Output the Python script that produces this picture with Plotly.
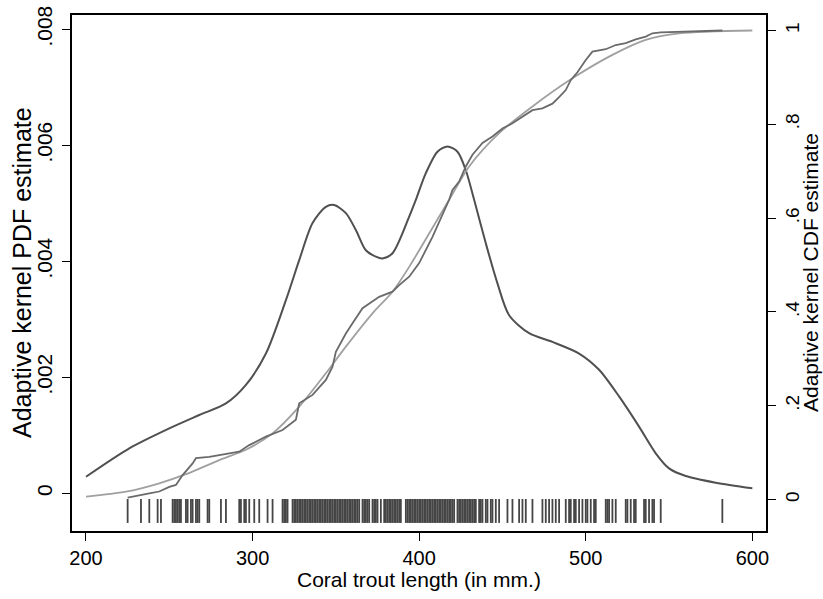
import plotly.graph_objects as go

# ---------------- data ----------------
pdf_x = [200, 226, 250, 268, 284, 296, 308, 320, 328, 336, 344, 349, 356, 362, 368, 374, 378,
         384, 394, 398, 404, 411, 417, 423, 428, 433, 440, 447, 454, 466, 480, 496, 508,
         520, 532, 542, 550, 560, 578, 600]
pdf_y = [0.000286, 0.000776, 0.00112, 0.00135, 0.00155, 0.00187, 0.00241, 0.00333, 0.00402,
         0.00466, 0.00494, 0.00497, 0.00483, 0.00454, 0.00419, 0.00408, 0.00405, 0.00414,
         0.00477, 0.00506, 0.00552, 0.00589, 0.00598, 0.00589, 0.00557, 0.00506, 0.00431,
         0.00362, 0.00307, 0.00276, 0.00261, 0.00241, 0.00213, 0.00167, 0.00115, 0.00069,
         0.00043, 0.000298, 0.000183, 0.000086]

cdf_x = [200, 224, 244, 260, 280, 296, 312, 328, 344, 356, 372, 384, 394, 418, 430, 448,
         468, 492, 516, 536, 556, 600]
cdf_y = [0.006, 0.0166, 0.0345, 0.054, 0.084, 0.106, 0.141, 0.198, 0.269, 0.326, 0.397,
         0.443, 0.496, 0.639, 0.710, 0.781, 0.838, 0.898, 0.948, 0.980, 0.994, 1.000]

ecdf_x = [225, 232, 238, 244, 250, 254, 258, 264, 266, 274, 280, 292, 298, 308, 318, 326,
          328, 336, 344, 348, 350, 356, 360, 366, 376, 384, 388, 394, 400, 408, 418, 420,
          424, 428, 432, 438, 444, 450, 456, 462, 468, 474, 480, 484, 488, 491, 495, 500,
          504, 512, 518, 524, 530, 536, 540, 545, 582]
ecdf_y = [0.004, 0.0096, 0.013, 0.017, 0.027, 0.031, 0.052, 0.077, 0.088, 0.091, 0.095,
          0.102, 0.116, 0.134, 0.148, 0.170, 0.205, 0.223, 0.255, 0.283, 0.315, 0.354,
          0.376, 0.408, 0.432, 0.443, 0.457, 0.475, 0.504, 0.560, 0.639, 0.660, 0.678,
          0.710, 0.735, 0.760, 0.774, 0.791, 0.802, 0.816, 0.830, 0.834, 0.844, 0.858,
          0.873, 0.894, 0.911, 0.937, 0.955, 0.960, 0.969, 0.973, 0.981, 0.987, 0.994,
          0.996, 1.000]

rug_x = ([225, 233, 238, 243, 245, 252, 253, 254, 255, 256, 257, 260, 261, 263, 264, 266,
          267, 268, 273, 274, 281, 284, 292, 293, 295, 296, 298, 301, 304, 309, 312, 318,
          319, 320, 321, 324, 325, 326, 327, 328, 329, 330, 331]
         + [v for v in range(332, 434) if v not in (365, 371, 376, 378, 390, 391, 422)]
         + [434, 436, 437, 438, 440, 441, 443, 444, 446, 448, 453, 456, 460, 462, 464, 468,
            474, 476, 478, 480, 482, 484, 488, 490, 491, 493, 494, 496, 498, 500, 501, 503,
            505, 506, 512, 513, 514, 516, 518, 524, 525, 527, 529, 530, 535, 536, 538, 540,
            541, 545, 582])

x_ticks = [200, 300, 400, 500, 600]
pdf_ticks = [0, 0.002, 0.004, 0.006, 0.008]
pdf_tick_text = ["0", ".002", ".004", ".006", ".008"]
cdf_ticks = [0, 0.2, 0.4, 0.6, 0.8, 1]
cdf_tick_text = ["0", ".2", ".4", ".6", ".8", "1"]

x_title = "Coral trout length (in mm.)"
pdf_title = "Adaptive kernel PDF estimate"
cdf_title = "Adaptive kernel CDF estimate"

# ---------------- style ----------------
RUG_TOP, RUG_BOTTOM = 0.001, -0.050   # in CDF-axis units
FONT = "Liberation Sans, Arial, Helvetica, sans-serif"

rx, ry = [], []
for v in rug_x:
    rx += [v, v, None]
    ry += [RUG_TOP, RUG_BOTTOM, None]

fig = go.Figure()
fig.add_trace(go.Scatter(x=rx, y=ry, mode="lines", yaxis="y2",
                         line=dict(color="#454545", width=1.8), hoverinfo="skip"))
fig.add_trace(go.Scatter(x=cdf_x, y=cdf_y, mode="lines", yaxis="y2",
                         line=dict(color="#a0a0a0", width=1.8, shape="spline", smoothing=0.8)))
fig.add_trace(go.Scatter(x=ecdf_x, y=ecdf_y, mode="lines", yaxis="y2",
                         line=dict(color="#6a6a6a", width=1.8)))
fig.add_trace(go.Scatter(x=pdf_x, y=pdf_y, mode="lines", yaxis="y",
                         line=dict(color="#505050", width=2, shape="spline", smoothing=0.8)))

axis_common = dict(showgrid=False, zeroline=False, showline=True, linecolor="black",
                   linewidth=1.5, ticks="outside", ticklen=8, tickwidth=1.3,
                   tickcolor="black", automargin=False)

fig.update_layout(
    width=823, height=599,
    margin=dict(l=72, r=57, t=15, b=68),
    paper_bgcolor="white", plot_bgcolor="white",
    showlegend=False,
    font=dict(family=FONT, color="black"),
    xaxis=dict(range=[191.6, 608.2], tickvals=x_ticks, mirror=True,
               tickfont=dict(family=FONT, size=20, color="black"), **axis_common),
    yaxis=dict(range=[-0.00065, 0.008247], tickvals=pdf_ticks, ticktext=pdf_tick_text,
               tickangle=-90, mirror=True, ticklabelstandoff=2,
               tickfont=dict(family=FONT, size=21, color="black"), **axis_common),
    yaxis2=dict(range=[-0.0672, 1.033], tickvals=cdf_ticks, ticktext=cdf_tick_text,
                tickangle=-90, overlaying="y", side="right", ticklabelstandoff=0,
                tickfont=dict(family=FONT, size=19, color="black"), **axis_common),
    annotations=[
        dict(text=x_title, xref="paper", yref="paper", x=0.5, y=0, xanchor="center",
             yanchor="middle", yshift=-48, showarrow=False,
             font=dict(family=FONT, size=21, color="black")),
        dict(text=pdf_title, xref="paper", yref="paper", x=0, y=0.5, xanchor="center",
             yanchor="middle", xshift=-50, textangle=-90, showarrow=False,
             font=dict(family=FONT, size=25, color="black")),
        dict(text=cdf_title, xref="paper", yref="paper", x=1, y=0.5, xanchor="center",
             yanchor="middle", xshift=44, textangle=-90, showarrow=False,
             font=dict(family=FONT, size=21, color="black")),
    ],
)

fig.write_html("out.html", config={"displayModeBar": False},
               post_script="document.body.style.margin='0px';")
